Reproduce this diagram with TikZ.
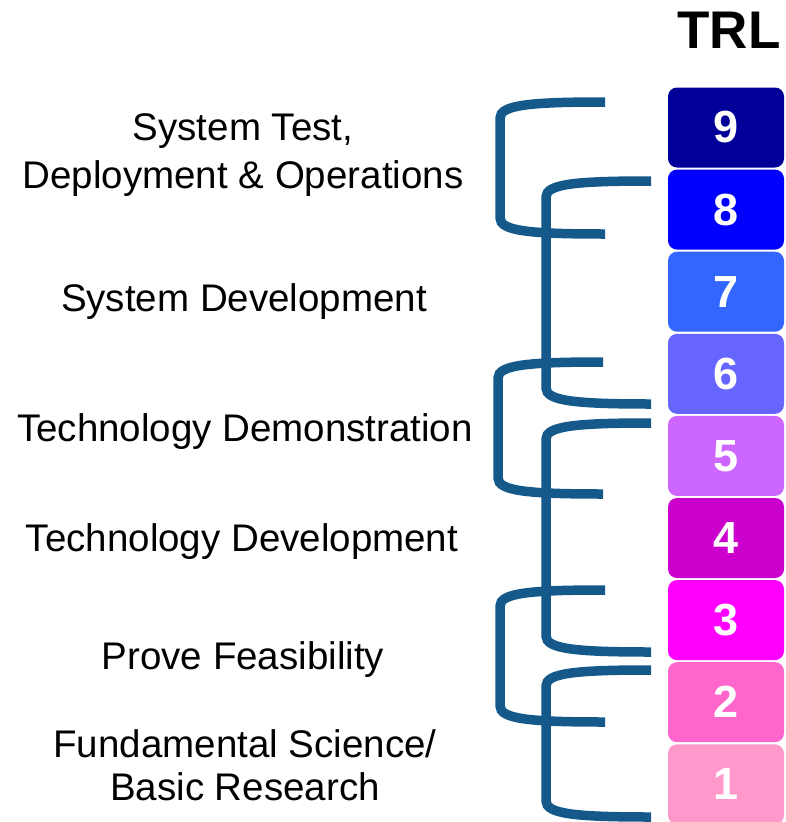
\documentclass[tikz,border=0pt]{standalone}
\usepackage{fontspec}
\setmainfont{Liberation Sans}
\usetikzlibrary{positioning}

\definecolor{trlnine}{HTML}{000099}
\definecolor{trleight}{HTML}{0000FF}
\definecolor{trlseven}{HTML}{3366FF}
\definecolor{trlsix}{HTML}{6666FF}
\definecolor{trlfive}{HTML}{CC66FF}
\definecolor{trlfour}{HTML}{CC00CC}
\definecolor{trlthree}{HTML}{FF00FF}
\definecolor{trltwo}{HTML}{FF66CC}
\definecolor{trlone}{HTML}{FF99CC}
\definecolor{bracecol}{HTML}{15588A}

\begin{document}
\begin{tikzpicture}[
    x=1pt, y=-1pt,
    node distance=1.7pt,
    level/.style={rectangle, rounded corners=9pt, minimum width=116pt, minimum height=80pt, inner sep=0pt, text=white, font=\fontsize{45}{50}\selectfont\bfseries},
    phase/.style={align=center, anchor=base, font=\fontsize{38.5}{45}\selectfont},
    bracket/.style={draw=bracecol, line width=9.5pt}
]
  \useasboundingbox (0,0) rectangle (785,822);

  \node[anchor=base, font=\fontsize{53}{60}\selectfont\bfseries] (trl) at (729,48) {TRL};

  \node[level, fill=trlnine] (t9) at (726,127.5) {9};
  \node[level, fill=trleight, below=of t9] (t8) {8};
  \node[level, fill=trlseven, below=of t8] (t7) {7};
  \node[level, fill=trlsix, below=of t7] (t6) {6};
  \node[level, fill=trlfive, below=of t6] (t5) {5};
  \node[level, fill=trlfour, below=of t5] (t4) {4};
  \node[level, fill=trlthree, below=of t4] (t3) {3};
  \node[level, fill=trltwo, below=of t3] (t2) {2};
  \node[level, fill=trlone, below=of t2] (t1) {1};

  % Phase names (base = last line)
  \node[phase, font=\fontsize{38.5}{48}\selectfont] (ops) at (243,188) {System Test,\\Deployment \& Operations};
  \node[phase] (sysdev) at (244,311) {System Development};
  \node[phase] (demo) at (245,441) {Technology Demonstration};
  \node[phase] (techdev) at (242,551) {Technology Development};
  \node[phase] (feas) at (243,669) {Prove Feasibility};
  \node[phase, font=\fontsize{38.5}{43}\selectfont] (basic) at (245,800) {Fundamental Science/\\Basic Research};

  % Brackets
  \draw[bracket] (605,102) .. controls (530,102) and (500,105) .. (500,118) -- (500,218) .. controls (500,231) and (530,234) .. (605,234);
  \draw[bracket] (651,181) .. controls (576,181) and (546,184) .. (546,197) -- (546,388) .. controls (546,401) and (576,404) .. (651,404);
  \draw[bracket] (603,362) .. controls (528,362) and (498,365) .. (498,378) -- (498,478) .. controls (498,491) and (528,494) .. (603,494);
  \draw[bracket] (651,423) .. controls (576,423) and (546,426) .. (546,439) -- (546,636) .. controls (546,649) and (576,652) .. (651,652);
  \draw[bracket] (605,590) .. controls (530,590) and (500,593) .. (500,606) -- (500,706) .. controls (500,719) and (530,722) .. (605,722);
  \draw[bracket] (651,670) .. controls (576,670) and (546,673) .. (546,686) -- (546,801) .. controls (546,814) and (576,817) .. (651,817);
\end{tikzpicture}
\end{document}
